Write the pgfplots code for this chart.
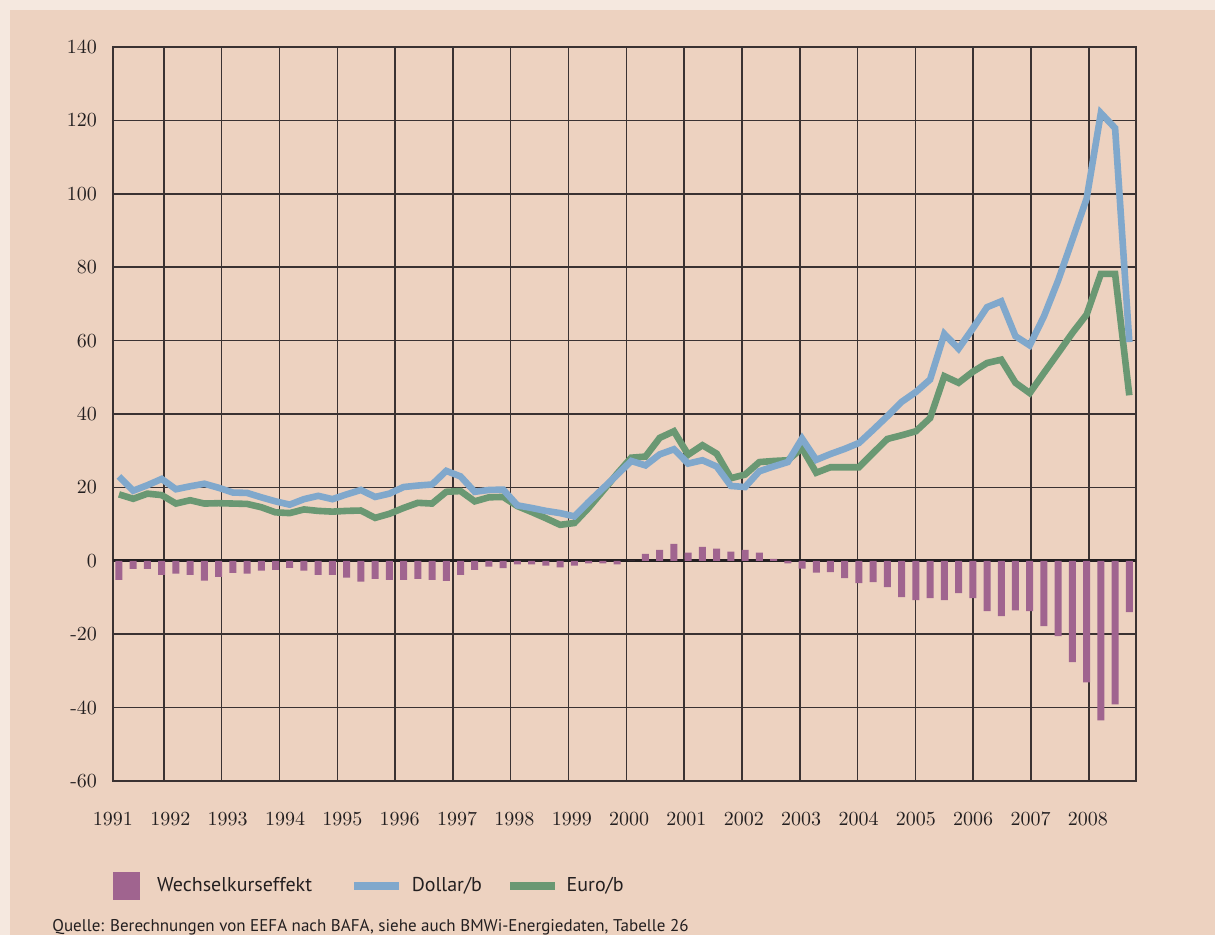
\documentclass[border=0pt]{standalone}
\usepackage{fontspec}
\usepackage{pgfplots}
\usepackage{pgfplotstable}
\pgfplotsset{compat=1.18}
\newfontfamily\legfont{PT Sans}
\definecolor{bgband}{HTML}{F5E8DF}
\definecolor{bg}{HTML}{EDD2C0}
\definecolor{barc}{HTML}{A0648F}
\definecolor{usdc}{HTML}{80A8CC}
\definecolor{eurc}{HTML}{6A9873}
\definecolor{gridc}{HTML}{3A3232}
\definecolor{txt}{HTML}{231F20}

\pgfplotstableread{
i bar usd eur
0 -5.2 23.0 18.1
1 -2.2 19.1 16.9
2 -2.2 20.6 18.3
3 -3.8 22.3 17.9
4 -3.5 19.5 15.6
5 -3.8 20.3 16.5
6 -5.4 21.0 15.6
7 -4.4 19.9 15.7
8 -3.3 18.6 15.6
9 -3.5 18.5 15.5
10 -2.7 17.3 14.6
11 -2.5 16.2 13.2
12 -1.9 15.3 13.0
13 -2.7 16.8 14.0
14 -3.8 17.7 13.6
15 -3.8 16.8 13.4
16 -4.6 18.1 13.6
17 -5.7 19.3 13.7
18 -4.9 17.4 11.7
19 -5.2 18.3 12.8
20 -5.2 20.1 14.4
21 -4.9 20.5 15.8
22 -5.2 20.8 15.6
23 -5.5 24.5 18.8
24 -3.8 23.0 19.0
25 -2.5 18.8 16.2
26 -1.6 19.3 17.3
27 -2.0 19.4 17.4
28 -1.0 15.1 14.9
29 -1.0 14.4 13.3
30 -1.3 13.6 11.6
31 -1.8 13.0 9.8
32 -1.3 12.1 10.3
33 -0.7 16.0 14.4
34 -0.7 19.7 19.0
35 -1.0 23.4 23.7
36 0.0 27.2 28.1
37 1.9 26.0 28.4
38 3.0 29.0 33.5
39 4.6 30.4 35.3
40 2.2 26.5 28.9
41 3.8 27.4 31.5
42 3.3 25.7 29.2
43 2.5 20.4 22.5
44 3.0 20.1 23.5
45 2.2 24.4 26.9
46 0.5 25.7 27.2
47 -0.7 26.9 27.4
48 -2.1 33.3 30.7
49 -3.2 27.5 24.0
50 -3.1 29.1 25.5
51 -4.7 30.5 25.5
52 -6.1 32.1 25.5
53 -5.8 35.7 29.4
54 -7.2 39.4 33.2
55 -9.9 43.3 34.2
56 -10.7 46.0 35.3
57 -10.2 49.4 38.9
58 -10.7 61.8 50.3
59 -8.8 57.8 48.5
60 -10.2 63.3 51.5
61 -13.7 69.1 53.9
62 -15.1 70.7 54.8
63 -13.5 61.2 48.5
64 -13.7 58.7 45.7
65 -17.8 66.6 51.2
66 -20.5 76.4 56.6
67 -27.6 87.5 62.1
68 -33.1 98.7 67.1
69 -43.5 122.0 78.2
70 -39.1 117.9 78.2
71 -14.0 59.6 45.1
}\data

\begin{document}
\begin{tikzpicture}
\useasboundingbox (0,0) rectangle (607.5pt,-467.5pt);
\fill[bgband] (0,0) rectangle (607.5pt,-467.5pt);
\fill[bg] (5pt,-5pt) rectangle (607.5pt,-467.5pt);
\begin{axis}[
  at={(56.5pt,-390.5pt)}, anchor=south west,
  scale only axis, width=511.5pt, height=367pt,
  xmin=-0.42, xmax=71.47, ymin=-60, ymax=140,
  ytick={-60,-40,-20,0,20,40,60,80,100,120,140},
  xtick={-0.42,3.61,7.64,11.67,15.70,19.73,23.76,27.79,31.82,35.85,39.88,43.91,47.94,51.97,56.00,60.03,64.06,68.09},
  xticklabels={1991,1992,1993,1994,1995,1996,1997,1998,1999,2000,2001,2002,2003,2004,2005,2006,2007,2008},
  minor xtick={3.16,7.22,11.29,15.35,19.41,23.47,27.53,31.59,35.66,39.72,43.78,47.84,51.90,55.97,60.03,64.09,68.15},
  xminorgrids=true, xmajorgrids=false, ymajorgrids=true,
  major tick length=0pt, minor tick length=0pt,
  major grid style={gridc, line width=0.75pt},
  minor grid style={gridc, line width=0.75pt},
  axis line style={gridc, line width=0.9pt},
  /pgf/number format/assume math mode=true,
  tick label style={font=\fontsize{10}{12}\selectfont, text=txt},
  yticklabel style={xshift=-4.5pt},
  xticklabel style={yshift=-12pt},
  extra y ticks={0}, extra y tick labels={},
  extra y tick style={major grid style={txt, line width=1.6pt}},
  legend columns=3,
  legend style={draw=none, fill=none, at={(0,-0.143)}, anchor=west,
    inner sep=0pt, column sep=0pt,
    nodes={inner sep=0pt, text=txt, font=\legfont\fontsize{10}{12}\selectfont}},
]
\addplot[ybar, bar width=3.5pt, bar shift=0pt, fill=barc, draw=none, forget plot] table[x=i,y=bar]{\data};
\addplot[eurc, line width=3.3pt, forget plot] table[x=i,y=eur]{\data};
\addplot[usdc, line width=3.3pt, forget plot] table[x=i,y=usd]{\data};
\addlegendimage{legend image code/.code={\fill[barc] (0pt,-6.75pt) rectangle (13pt,6.75pt); \path (21.5pt,0pt);}}
\addlegendentry{Wechselkurseffekt}
\addlegendimage{legend image code/.code={\draw[usdc, line width=4pt] (0pt,0pt) -- (22.5pt,0pt); \path (-21pt,0pt) (28.5pt,0pt);}}
\addlegendentry{Dollar/b}
\addlegendimage{legend image code/.code={\draw[eurc, line width=4pt] (0pt,0pt) -- (22.5pt,0pt); \path (-14pt,0pt) (28pt,0pt);}}
\addlegendentry{Euro/b}
\end{axis}
\node[anchor=base west, inner sep=0pt, text=txt, font=\legfont\fontsize{8.5}{10}\selectfont] at (26pt,-465.5pt) {Quelle: Berechnungen von EEFA nach BAFA, siehe auch BMWi-Energiedaten, Tabelle 26};
\end{tikzpicture}
\end{document}
